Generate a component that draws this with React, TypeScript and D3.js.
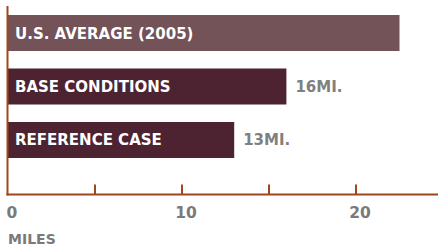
import React from "react";
import * as d3 from "d3";

const categories = ["U.S. AVERAGE (2005)", "BASE CONDITIONS", "REFERENCE CASE"];
const values = [22.5, 16, 13];
const valueLabels = ["", "16MI.", "13MI."];
const tickValues = [5, 10, 15, 20];
const tickLabels = [0, 10, 20];
const axisTitle = "MILES";

const W = 438;
const H = 248;
const FONT = "'DejaVu Sans', sans-serif";
const AXIS = "#a0461c";

export default function App() {
  const x = d3.scaleLinear().domain([0, 25]).range([8, 443]);
  const y = d3.scaleBand<string>().domain(categories).range([15, 158]).paddingInner(0.327).paddingOuter(0);
  const baseY = 194.5;
  const colors = ["#735258", "#4e2331", "#4e2331"];
  return (
    <svg width={W} height={H} style={{ position: "absolute", left: 0, top: 0 }}>
      <rect width={W} height={H} fill="#fff" />
      {categories.map((c, i) => (
        <g key={c}>
          <rect x={x(0)} y={y(c)!} width={x(values[i]) - x(0)} height={y.bandwidth()} fill={colors[i]} />
          <text x={x(0) + 7} y={y(c)! + y.bandwidth() / 2 + 5.5} fill="#fff" fontFamily={FONT} fontWeight="bold" fontSize={15}>
            {c}
          </text>
          {valueLabels[i] && (
            <text x={x(values[i]) + 9} y={y(c)! + y.bandwidth() / 2 + 5.5} fill="#808080" fontFamily={FONT} fontWeight="bold" fontSize={15}>
              {valueLabels[i]}
            </text>
          )}
        </g>
      ))}
      <line x1={7.5} x2={7.5} y1={6} y2={baseY + 1} stroke={AXIS} strokeWidth={2} />
      <line x1={6.5} x2={W} y1={baseY} y2={baseY} stroke={AXIS} strokeWidth={2} />
      {tickValues.map((t) => (
        <line key={t} x1={x(t)} x2={x(t)} y1={baseY - 10} y2={baseY} stroke={AXIS} strokeWidth={2} />
      ))}
      {tickLabels.map((t) => (
        <text key={t} x={x(t) + 4} y={218} textAnchor="middle" fill="#7a7a7a" fontFamily={FONT} fontWeight="bold" fontSize={15.5}>
          {t}
        </text>
      ))}
      <text x={8} y={244} fill="#7a7a7a" fontFamily={FONT} fontWeight="bold" fontSize={14}>
        {axisTitle}
      </text>
    </svg>
  );
}
